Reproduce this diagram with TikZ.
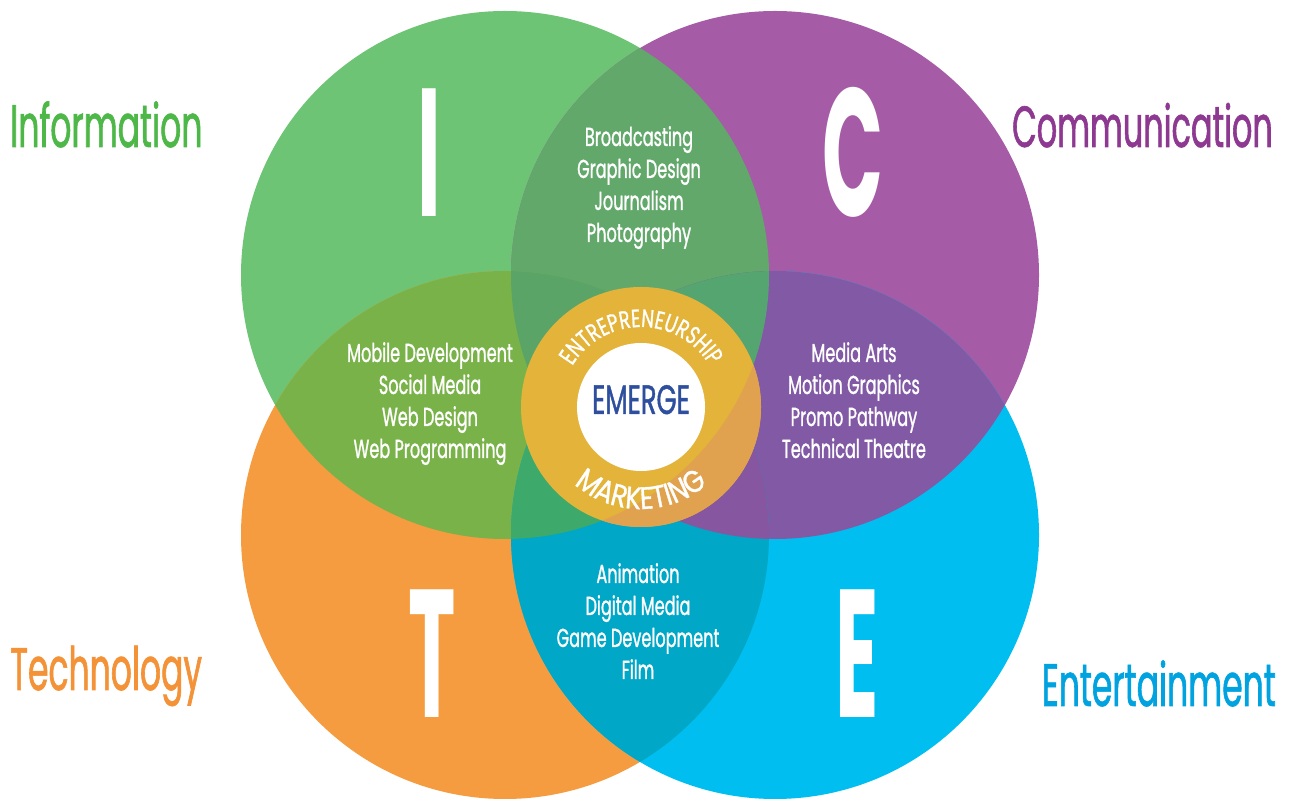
\documentclass[tikz,border=0pt]{standalone}
\usepackage{fontspec}
\setmainfont{Poppins}
\newfontfamily\sidef[FakeStretch=0.55,FakeBold=1]{Poppins}
\newfontfamily\listf[FakeStretch=0.62,FakeBold=1]{Poppins}
\newfontfamily\bigf[FakeStretch=0.44]{Poppins}
\newfontfamily\emf[FakeStretch=0.63,FakeBold=1]{Poppins}
\newfontfamily\topringf[FakeStretch=0.72,FakeBold=1]{Poppins}
\newfontfamily\botringf[FakeStretch=0.85,FakeBold=1]{Poppins}
\usetikzlibrary{decorations.text}
\definecolor{cG}{HTML}{6CC474}
\definecolor{cP}{HTML}{A55BA6}
\definecolor{cO}{HTML}{F59C40}
\definecolor{cB}{HTML}{00BEEF}
\definecolor{cGP}{HTML}{62A86B}
\definecolor{cGO}{HTML}{7AB24A}
\definecolor{cPB}{HTML}{8259A5}
\definecolor{cOB}{HTML}{00A7C6}
\definecolor{cGPO}{HTML}{5AA468}
\definecolor{cGPB}{HTML}{55A570}
\definecolor{cGOB}{HTML}{3DAA6C}
\definecolor{cPOB}{HTML}{8656A0}
\definecolor{cALL}{HTML}{4E9E78}
\definecolor{ringgold}{HTML}{E3B33A}
\definecolor{ringorange}{HTML}{E1A24F}
\definecolor{tG}{HTML}{4DB848}
\definecolor{tP}{HTML}{8E3991}
\definecolor{tO}{HTML}{F39237}
\definecolor{tB}{HTML}{00A3E0}
\definecolor{tEm}{HTML}{2D4F9E}
\tikzset{
  sidelabel/.style={inner sep=0pt, font=\sidef\fontsize{60}{60}\selectfont},
  bigletter/.style={inner sep=0pt, text=white, font=\bigf\bfseries\fontsize{182}{182}\selectfont},
  listitem/.style={inner sep=0pt, anchor=base, text=white, font=\listf\fontsize{26}{26}\selectfont},
}
\begin{document}
\begin{tikzpicture}[x=1pt,y=1pt]
\useasboundingbox (0,0) rectangle (1293,803);
\fill[white] (0,0) rectangle (1293,803);
% base circles
\fill[cG] (505,528) circle[radius=264];
\fill[cP] (775,528) circle[radius=264];
\fill[cO] (505,268) circle[radius=264];
\fill[cB] (775,268) circle[radius=264];
% pair overlaps
\begin{scope}\clip (505,528) circle[radius=264]; \fill[cGP] (775,528) circle[radius=264];\end{scope}
\begin{scope}\clip (505,528) circle[radius=264]; \fill[cGO] (505,268) circle[radius=264];\end{scope}
\begin{scope}\clip (775,528) circle[radius=264]; \fill[cPB] (775,268) circle[radius=264];\end{scope}
\begin{scope}\clip (505,268) circle[radius=264]; \fill[cOB] (775,268) circle[radius=264];\end{scope}
% triple overlaps
\begin{scope}\clip (505,528) circle[radius=264]; \clip (775,528) circle[radius=264]; \fill[cGPO] (505,268) circle[radius=264];\end{scope}
\begin{scope}\clip (505,528) circle[radius=264]; \clip (775,528) circle[radius=264]; \fill[cGPB] (775,268) circle[radius=264];\end{scope}
\begin{scope}\clip (505,528) circle[radius=264]; \clip (505,268) circle[radius=264]; \fill[cGOB] (775,268) circle[radius=264];\end{scope}
\begin{scope}\clip (775,528) circle[radius=264]; \clip (505,268) circle[radius=264]; \fill[cPOB] (775,268) circle[radius=264];\end{scope}
\begin{scope}\clip (505,528) circle[radius=264]; \clip (775,528) circle[radius=264]; \clip (505,268) circle[radius=264]; \fill[cALL] (775,268) circle[radius=264];\end{scope}
% central ring
\fill[ringgold] (641,396) circle[radius=120];
\begin{scope}
  \clip (641,396) circle[radius=120];
  \fill[ringorange, even odd rule] (641,396) circle[radius=130] (505,528) circle[radius=264];
\end{scope}
\fill[white] (641,396) circle[radius=64];
\path[decorate, decoration={text along path, text align=center,
  text={|\topringf\fontsize{25}{25}\selectfont\color{white}|ENTREPRENEURSHIP}}]
  (641,396) ++(165:80pt) arc[start angle=165, end angle=15, radius=80pt];
\path[decorate, decoration={text along path, text align=center,
  text={|\botringf\fontsize{31}{31}\selectfont\color{white}|MARKETING}}]
  (641,396) ++(215:102pt) arc[start angle=215, end angle=325, radius=102pt];
\node[inner sep=0pt, anchor=base, text=tEm, font=\emf\fontsize{41}{41}\selectfont] (emerge) at (641,389) {EMERGE};
% big letters
\node[bigletter, anchor=base] (bigI) at (429,586) {I};
\node[bigletter, anchor=base] (bigC) at (853,586) {C};
\node[bigletter, anchor=base] (bigT) at (432,85) {T};
\node[bigletter, anchor=base] (bigE) at (857,85) {E};
% side labels
\node[sidelabel, anchor=base west, text=tG] (info) at (10,656) {Information};
\node[sidelabel, anchor=base east, text=tP, font=\sidef\fontsize{58}{58}\selectfont] (comm) at (1273,656) {Communication};
\node[sidelabel, anchor=base west, text=tO] (tech) at (10,113) {Technology};
\node[sidelabel, anchor=base east, text=tB] (ent) at (1276,97) {Entertainment};
% lists
\node[listitem] (t1) at (639,657) {Broadcasting};
\node[listitem] (t2) at (639,625) {Graphic Design};
\node[listitem] (t3) at (639,593) {Journalism};
\node[listitem] (t4) at (639,561) {Photography};
\node[listitem] (l1) at (430,441) {Mobile Development};
\node[listitem] (l2) at (430,409) {Social Media};
\node[listitem] (l3) at (430,377) {Web Design};
\node[listitem] (l4) at (430,345) {Web Programming};
\node[listitem] (r1) at (854,441) {Media Arts};
\node[listitem] (r2) at (854,409) {Motion Graphics};
\node[listitem] (r3) at (854,377) {Promo Pathway};
\node[listitem] (r4) at (854,345) {Technical Theatre};
\node[listitem] (b1) at (638,220) {Animation};
\node[listitem] (b2) at (638,188) {Digital Media};
\node[listitem] (b3) at (638,156) {Game Development};
\node[listitem] (b4) at (638,124) {Film};
\end{tikzpicture}
\end{document}
